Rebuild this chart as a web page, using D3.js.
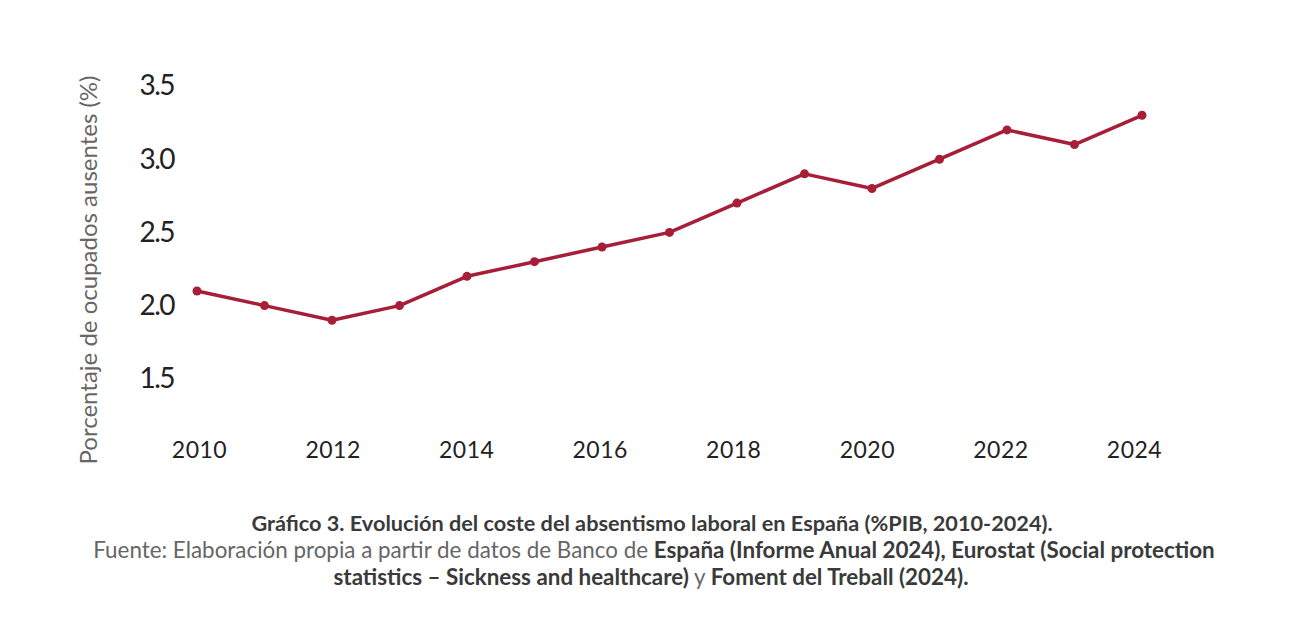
<!DOCTYPE html>
<html>
<head>
<meta charset="utf-8">
<script src="https://cdn.jsdelivr.net/npm/d3@7"></script>
<style>
  body { margin: 0; background: #fff; }
  text { font-family: Lato, "Open Sans", sans-serif; }
</style>
</head>
<body>
<svg id="chart" width="1300" height="634"></svg>
<script>
// data
const years = [2010, 2011, 2012, 2013, 2014, 2015, 2016, 2017, 2018, 2019, 2020, 2021, 2022, 2023, 2024];
const values = [2.1, 2.0, 1.9, 2.0, 2.2, 2.3, 2.4, 2.5, 2.7, 2.9, 2.8, 3.0, 3.2, 3.1, 3.3];
const yTicks = [1.5, 2.0, 2.5, 3.0, 3.5];
const xTicks = [2010, 2012, 2014, 2016, 2018, 2020, 2022, 2024];

const svg = d3.select('#chart');

const x = d3.scaleLinear().domain([2010, 2024]).range([197, 1142]);
// the year labels sit on a slightly shorter run than the points
const xLab = d3.scaleLinear().domain([2010, 2024]).range([199, 1134]);
const y = d3.scaleLinear().domain([1.0, 3.5]).range([452, 86]);

const data = years.map((yr, i) => ({year: yr, value: values[i]}));

// y axis, labels only
const yAxis = svg.append('g')
  .attr('transform', 'translate(174,0)')
  .call(d3.axisLeft(y).tickValues(yTicks).tickFormat(d3.format('.1f')).tickSize(0).tickPadding(0));
yAxis.select('.domain').remove();
yAxis.selectAll('text')
  .attr('fill', '#222')
  .style('font-size', '28px')
  .style('letter-spacing', '-1.5px');

// x axis, labels only
const xAxis = svg.append('g')
  .attr('transform', 'translate(0,442)')
  .call(d3.axisBottom(xLab).tickValues(xTicks).tickFormat(d3.format('d')).tickSize(0).tickPadding(0));
xAxis.select('.domain').remove();
xAxis.selectAll('text')
  .attr('fill', '#222')
  .style('font-size', '23px')
  .style('letter-spacing', '0.5px');

// axis title
svg.append('text')
  .attr('transform', 'translate(97,270) rotate(-90)')
  .attr('text-anchor', 'middle')
  .attr('fill', '#666')
  .style('font-size', '24px')
  .text('Porcentaje de ocupados ausentes (%)');

// line + points
const line = d3.line().x(d => x(d.year)).y(d => y(d.value));
svg.append('path')
  .datum(data)
  .attr('d', line)
  .attr('fill', 'none')
  .attr('stroke', '#a61e37')
  .attr('stroke-width', 3.5)
  .attr('stroke-linejoin', 'round');

svg.selectAll('circle.pt').data(data).enter().append('circle')
  .attr('class', 'pt')
  .attr('cx', d => x(d.year))
  .attr('cy', d => y(d.value))
  .attr('r', 4.5)
  .attr('fill', '#a61e37');

// caption
const cap = svg.append('text')
  .attr('text-anchor', 'middle')
  .style('font-size', '21.7px');

cap.append('tspan').attr('x', 652).attr('y', 531)
  .attr('fill', '#3a3a3a')
  .style('font-weight', 'bold')
  .text('Gráfico 3. Evolución del coste del absentismo laboral en España (%PIB, 2010-2024).');

const l2 = cap.append('tspan').attr('x', 654).attr('y', 558).style('font-size', '22.4px');
l2.append('tspan').attr('fill', '#666').text('Fuente: Elaboración propia a partir de datos de Banco de ');
l2.append('tspan').attr('fill', '#3a3a3a').style('font-weight', 'bold').text('España (Informe Anual 2024), Eurostat (Social protection');

const l3 = cap.append('tspan').attr('x', 651).attr('y', 585).style('font-size', '22.4px');
l3.append('tspan').attr('fill', '#3a3a3a').style('font-weight', 'bold').text('statistics – Sickness and healthcare)');
l3.append('tspan').attr('fill', '#666').text(' y ');
l3.append('tspan').attr('fill', '#3a3a3a').style('font-weight', 'bold').text('Foment del Treball (2024).');
</script>
</body>
</html>
